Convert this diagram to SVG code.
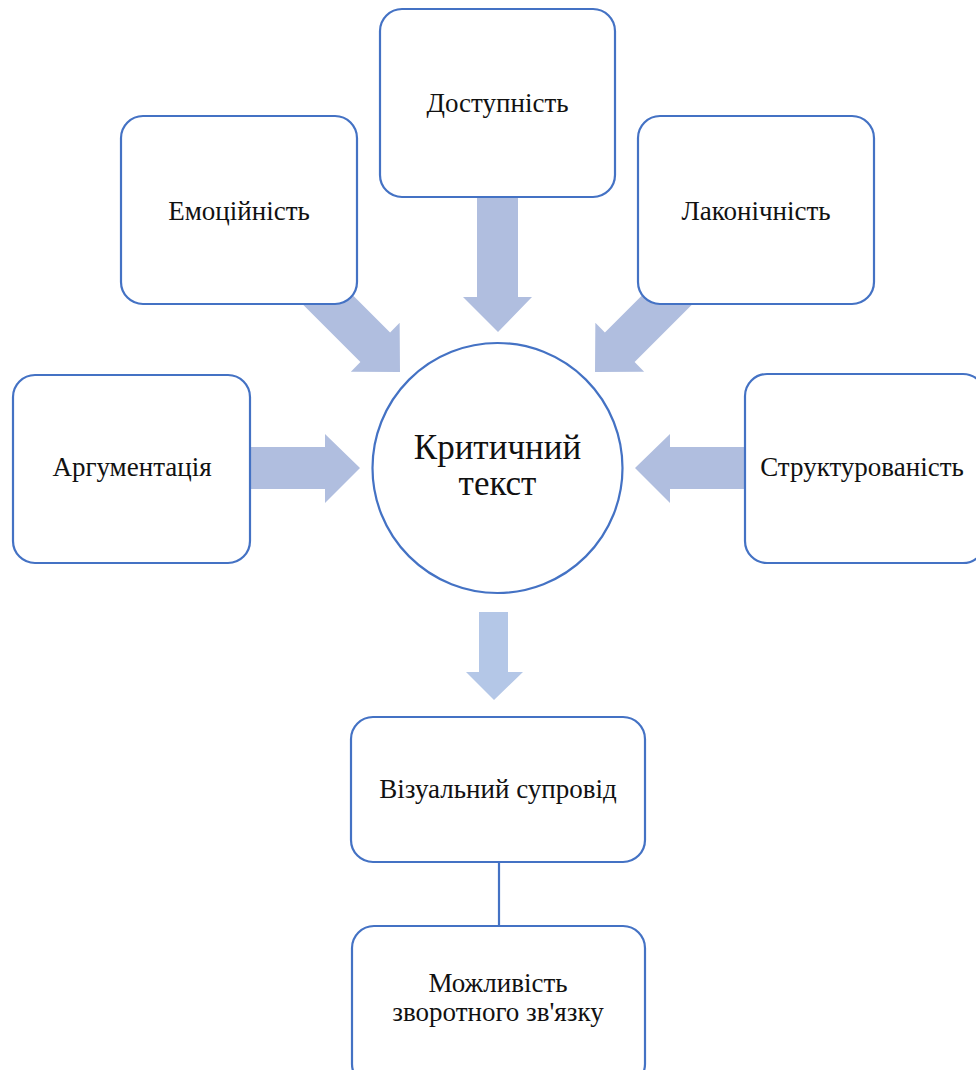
<svg xmlns="http://www.w3.org/2000/svg" width="976" height="1070" viewBox="0 0 976 1070">
<defs>
<style>
.box{fill:#fff;stroke:#4472C4;stroke-width:2.2}
.arr{fill:#B0BEDF}
.arr2{fill:#B4C7E7}
.ln{stroke:#4472C4;stroke-width:2.2;fill:none}
</style>
<path id="arrow" d="M-140,-21 L-35,-21 L-35,-34.5 L0,0 L-35,34.5 L-35,21 L-140,21 Z"/>
</defs>
<g id="connectors">
<use href="#arrow" class="arr" transform="translate(400,372) rotate(45)"/>
<use href="#arrow" class="arr" transform="translate(595,372) rotate(135)"/>
<path class="arr" d="M477,190 L518,190 L518,297 L532,297 L498,332 L463,297 L477,297 Z"/>
<path class="arr" d="M240,447 L325,447 L325,434 L360,468 L325,503 L325,489 L240,489 Z"/>
<path class="arr" d="M755,447 L670,447 L670,434 L635,468 L670,503 L670,489 L755,489 Z"/>
<path class="arr2" d="M479,612 L508,612 L508,672 L523,672 L494,700 L466,672 L479,672 Z"/>
<line class="ln" x1="499" y1="862" x2="499" y2="926"/>
</g>
<g id="node-center">
<circle class="box" cx="497.5" cy="468" r="125"/>
<text x="497.5" y="459" text-anchor="middle" style="font-family:'Liberation Serif';font-size:35px;fill:#111">Критичний</text>
<text x="497.5" y="495" text-anchor="middle" style="font-family:'Liberation Serif';font-size:35px;fill:#111">текст</text>
</g>
<g id="node-dostupnist">
<rect class="box" x="380" y="9" width="235" height="188" rx="22"/>
<text x="497.5" y="112" text-anchor="middle" style="font-family:'Liberation Serif';font-size:27px;fill:#111">Доступність</text>
</g>
<g id="node-emotsiinist">
<rect class="box" x="121" y="116" width="236" height="188" rx="22"/>
<text x="239" y="220" text-anchor="middle" style="font-family:'Liberation Serif';font-size:27px;fill:#111">Емоційність</text>
</g>
<g id="node-lakonichnist">
<rect class="box" x="638" y="116" width="236" height="188" rx="22"/>
<text x="756" y="220" text-anchor="middle" style="font-family:'Liberation Serif';font-size:27px;fill:#111">Лаконічність</text>
</g>
<g id="node-argumentatsiia">
<rect class="box" x="13" y="375" width="237" height="188" rx="22"/>
<text x="132" y="476" text-anchor="middle" style="font-family:'Liberation Serif';font-size:27px;fill:#111">Аргументація</text>
</g>
<g id="node-strukturovanist">
<rect class="box" x="745" y="374" width="240" height="189" rx="22"/>
<text x="862" y="476" text-anchor="middle" style="font-family:'Liberation Serif';font-size:27px;fill:#111">Структурованість</text>
</g>
<g id="node-vizualnyi">
<rect class="box" x="351" y="717" width="294" height="145" rx="22"/>
<text x="498" y="798" text-anchor="middle" style="font-family:'Liberation Serif';font-size:27px;fill:#111">Візуальний супровід</text>
</g>
<g id="node-mozhlyvist">
<rect class="box" x="352" y="926" width="293" height="160" rx="22"/>
<text x="498" y="992" text-anchor="middle" style="font-family:'Liberation Serif';font-size:27px;fill:#111">Можливість</text>
<text x="498" y="1021" text-anchor="middle" style="font-family:'Liberation Serif';font-size:27px;fill:#111">зворотного зв'язку</text>
</g>
</svg>
